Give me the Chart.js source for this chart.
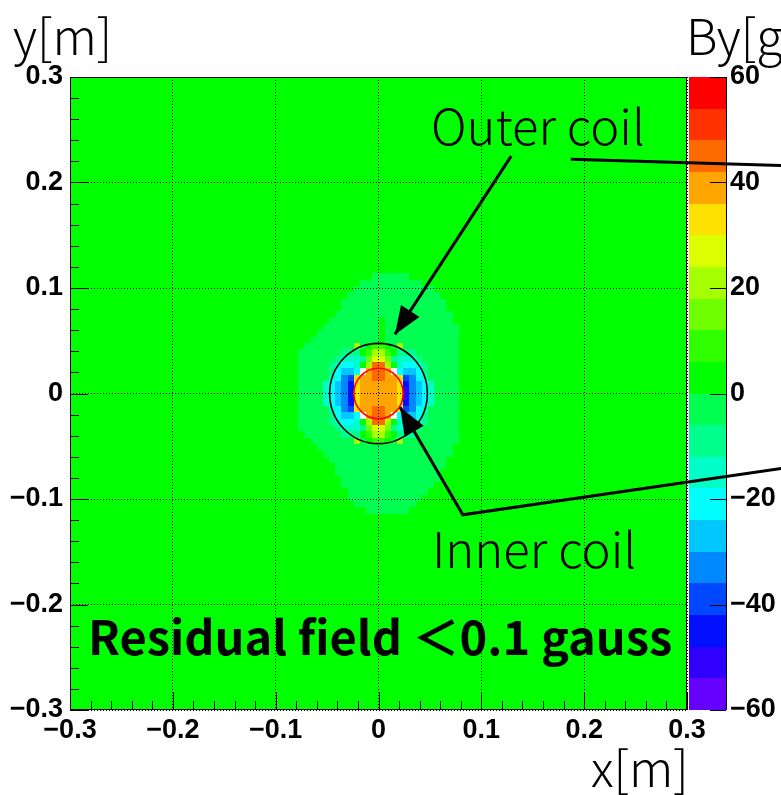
<!DOCTYPE html>
<html>
<head>
<meta charset="utf-8">
<script src="https://cdn.jsdelivr.net/npm/chart.js@4.4.0/dist/chart.umd.min.js"></script>
<style>
  html, body { margin: 0; padding: 0; background: #fff; }
  #wrap { position: relative; width: 781px; height: 795px; overflow: hidden; }
  #wrap canvas { position: absolute; left: 0; top: 0; }
  .lbl { position: absolute; white-space: nowrap; line-height: 1; color: #000;
         font-family: 'Noto Sans CJK JP', 'Noto Sans', sans-serif; font-weight: 300; font-size: 49px; }
  .bold { font-weight: 700; font-size: 47px; }
</style>
</head>
<body>
<div id="wrap">
  <canvas id="field-map" width="781" height="795"></canvas>
  <div class="lbl" style="left:13px;top:9px">y[m]</div>
  <div class="lbl" style="left:591px;top:741px">x[m]</div>
  <div class="lbl" style="left:686px;top:9px">By[gauss]</div>
  <div class="lbl" style="left:431px;top:99px">Outer coil</div>
  <div class="lbl" style="left:432px;top:522px">Inner coil</div>
  <div class="lbl bold" style="left:88px;top:611px">Residual field ＜0.1 gauss</div>
</div>
<script>
///// data /////
const axisRange = [-0.3, 0.3];
const binCount = 100;
const residualField = 0.05;          // gauss, everywhere outside the map below
const zRange = [-60, 60];
const zTicks = [-60, -40, -20, 0, 20, 40, 60];

// one letter per bin, A = -57 g ... T = +57 g (6 g steps), '.' = residual, W = below scale
const levelCodes = 'ABCDEFGHIJKLMNOPQRST';
const mapFirstColumn = 34;   // bin index of first character
const mapTopRow = 68;        // bin index (counted from bottom) of first string
const fieldRows = [
  '...............JJJJJJ...........',
  '.............JJJJJJJJJJ.........',
  '............JJJJJJJJJJJJJ.......',
  '...........JJJJJJJJJJJJJJJ......',
  '..........JJJJJJJJJJJJJJJJJ.....',
  '..........JJJJJJJJJJJJJJJJJ.....',
  '.........JJJJJJJJJJJJJJJJJJJ....',
  '........JJJJJJJJKJJJJJJJJJJJ....',
  '.......JJJJJJJJJKJJJJJJJJJJJJ...',
  '......JJJJJJJJJJKJJJJJJJJJJJJ...',
  '.....JJJJJJJJJJJKJJJJJJJJJJJJ...',
  '....JJJJJJJJNJKLLKJNJJJJJJJJJ...',
  '...JJJJJJJIIIKLNNLKIIIJJJJJJJ...',
  '...JJJJJJIHHHIMOOMIHHHIJJJJJJ...',
  '...JJJJJIHGGHKNRRNKHGGHIJJJJJ...',
  '...JJJJJIGFFGWQRRQWGFFGIJJJJJ...',
  '...JJJJJHGEDPQQRRQQPDEGHJJJJJ...',
  '...JJJJHGFECPQQQQQQPCEFGHJJJJ...',
  '...JJJJHGFECPQQQQQQPBEFGHJJJJ...',
  '...JJJJHGFECPQQQQQQPBEFGHJJJJ...',
  '...JJJJHGFECPQQQQQQPCEFGHJJJJ...',
  '...JJJJJHGEDPQQRRQQPDEGHJJJJJ...',
  '...JJJJJIGFFGWQRRQWGFFGIJJJJJ...',
  '...JJJJJIHGGHKNRRNKHGGHIJJJJJ...',
  '...JJJJJJIHHHIMOOMIHHHIJJJJJJ...',
  '....JJJJJJIIIKLNNLKIIIJJJJJJJ...',
  '.....JJJJJJJNJKLLKJNJJJJJJJJJ...',
  '......JJJJJJJJJJJJJJJJJJJJJJ....',
  '.......JJJJJJJJJJJJJJJJJJJJJ....',
  '........JJJJJJJJJJJJJJJJJJJ.....',
  '.........JJJJJJJJJJJJJJJJJJ.....',
  '.........JJJJJJJJJJJJJJJJJ......',
  '..........JJJJJJJJJJJJJJJJ......',
  '..........JJJJJJJJJJJJJJJ.......',
  '...........JJJJJJJJJJJJJ........',
  '...........JJJJJJJJJJJJ.........',
  '............JJJJJJJJJJ..........',
  '..............JJJJJJJ...........'
];

const paletteColors = [
  '#6500ff', '#3000ff', '#0010ff', '#0048ff', '#0088ff',
  '#00c8ff', '#00ffff', '#00ffc8', '#00ff8c', '#00ff50',
  '#00ff00', '#30ff00', '#70ff00', '#a5ff00', '#dcff00',
  '#ffe100', '#ffa500', '#ff6a00', '#ff3300', '#ff0000'
];

const outerCoilRadius = 0.0475;
const innerCoilRadius = 0.024;

// annotations in metres
const outerArrow = [[0.129, 0.225], [0.016, 0.056]];
const outerLine = [[0.187, 0.222], [0.392, 0.216]];
const innerArrow = [[0.392, -0.071], [0.082, -0.115], [0.021, -0.013]];

///// build bins /////
const binWidth = (axisRange[1] - axisRange[0]) / binCount;
const cells = [];
for (let j = 0; j < binCount; j++) {
  const row = fieldRows[mapTopRow - j];
  for (let i = 0; i < binCount; i++) {
    let v = residualField;
    const ch = row ? row[i - mapFirstColumn] : undefined;
    if (ch === 'W') v = -75;
    else if (ch && ch !== '.') v = -57 + 6 * levelCodes.indexOf(ch);
    cells.push({
      x0: axisRange[0] + i * binWidth, x1: axisRange[0] + (i + 1) * binWidth,
      y0: axisRange[0] + j * binWidth, y1: axisRange[0] + (j + 1) * binWidth, v
    });
  }
}

function colorFor(v) {
  if (v < zRange[0]) return null;
  const step = (zRange[1] - zRange[0]) / paletteColors.length;
  let k = Math.floor((v - zRange[0]) / step);
  k = Math.max(0, Math.min(paletteColors.length - 1, k));
  return paletteColors[k];
}

function fmt(v) {
  const r = Math.round(v * 100) / 100;
  if (Math.abs(r) < 1e-9) return '0';
  return (r < 0 ? '\u2212' : '') + Math.abs(r).toString();
}

const tickFont = { family: "'Liberation Sans', Arial, sans-serif", weight: 'bold', size: 27 };

const cellPlugin = {
  id: 'fieldCells',
  beforeDraw(chart) {
    const { ctx, scales: { x, y } } = chart;
    ctx.save();
    for (const c of cells) {
      const col = colorFor(c.v);
      if (!col) continue;
      const px0 = Math.round(x.getPixelForValue(c.x0));
      const px1 = Math.round(x.getPixelForValue(c.x1));
      const py0 = Math.round(y.getPixelForValue(c.y1));
      const py1 = Math.round(y.getPixelForValue(c.y0));
      ctx.fillStyle = col;
      ctx.fillRect(px0, py0, px1 - px0, py1 - py0);
    }
    ctx.restore();
  }
};

function arrowHead(ctx, from, to) {
  const a = Math.atan2(to[1] - from[1], to[0] - from[0]);
  const len = 28, half = 11;
  ctx.beginPath();
  ctx.moveTo(to[0], to[1]);
  ctx.lineTo(to[0] - len * Math.cos(a) + half * Math.sin(a), to[1] - len * Math.sin(a) - half * Math.cos(a));
  ctx.lineTo(to[0] - len * Math.cos(a) - half * Math.sin(a), to[1] - len * Math.sin(a) + half * Math.cos(a));
  ctx.closePath();
  ctx.fill();
}

const overlayPlugin = {
  id: 'overlay',
  afterDraw(chart) {
    const { ctx, chartArea: area, scales: { x, y, z } } = chart;
    const P = p => [x.getPixelForValue(p[0]), y.getPixelForValue(p[1])];
    ctx.save();

    // coils
    const cx = x.getPixelForValue(0), cy = y.getPixelForValue(0);
    [[outerCoilRadius, '#000'], [innerCoilRadius, '#ff0000']].forEach(([r, col]) => {
      ctx.beginPath();
      ctx.ellipse(cx, cy, x.getPixelForValue(r) - cx, cy - y.getPixelForValue(r), 0, 0, Math.PI * 2);
      ctx.strokeStyle = col;
      ctx.lineWidth = 1.6;
      ctx.stroke();
    });

    // inner ticks, bottom and left
    ctx.strokeStyle = '#000';
    ctx.lineWidth = 1;
    for (let k = 0; k <= 30; k++) {
      const v = axisRange[0] + k * 0.02;
      const major = k % 5 === 0;
      const px = Math.round(x.getPixelForValue(v)) + 0.5;
      ctx.beginPath();
      ctx.moveTo(px, area.bottom);
      ctx.lineTo(px, area.bottom - (major ? 18 : 9));
      ctx.stroke();
      const py = Math.round(y.getPixelForValue(v)) + 0.5;
      ctx.beginPath();
      ctx.moveTo(area.left, py);
      ctx.lineTo(area.left + (major ? 18 : 9), py);
      ctx.stroke();
    }

    // frame
    ctx.strokeRect(area.left + 0.5, area.top + 0.5, area.right - area.left - 1, area.bottom - area.top - 1);

    // colour bar
    const bl = area.right + 2, br = area.right + 39;
    const step = (zRange[1] - zRange[0]) / paletteColors.length;
    paletteColors.forEach((col, k) => {
      const t = Math.round(z.getPixelForValue(zRange[0] + (k + 1) * step));
      const b = Math.round(z.getPixelForValue(zRange[0] + k * step));
      ctx.fillStyle = col;
      ctx.fillRect(bl, t, br - bl, b - t);
    });
    ctx.strokeStyle = '#000';
    ctx.beginPath();
    ctx.moveTo(br + 0.5, z.getPixelForValue(zRange[1]));
    ctx.lineTo(br + 0.5, z.getPixelForValue(zRange[0]));
    ctx.stroke();
    zTicks.forEach(v => {
      const py = Math.round(z.getPixelForValue(v)) + 0.5;
      ctx.beginPath();
      ctx.moveTo(br - 16, py);
      ctx.lineTo(br, py);
      ctx.stroke();
    });

    // arrows and leader lines
    ctx.strokeStyle = '#000';
    ctx.fillStyle = '#000';
    ctx.lineWidth = 3;
    ctx.beginPath();
    outerLine.map(P).forEach((p, k) => k ? ctx.lineTo(p[0], p[1]) : ctx.moveTo(p[0], p[1]));
    ctx.stroke();
    const oa = outerArrow.map(P);
    ctx.beginPath();
    ctx.moveTo(oa[0][0], oa[0][1]);
    ctx.lineTo(oa[1][0], oa[1][1]);
    ctx.stroke();
    arrowHead(ctx, oa[0], oa[1]);
    const ia = innerArrow.map(P);
    ctx.beginPath();
    ia.forEach((p, k) => k ? ctx.lineTo(p[0], p[1]) : ctx.moveTo(p[0], p[1]));
    ctx.stroke();
    arrowHead(ctx, ia[1], ia[2]);

    ctx.restore();
  }
};

const gridOpts = { color: '#000', lineWidth: 1, drawTicks: false };

new Chart(document.getElementById('field-map'), {
  type: 'scatter',
  data: { datasets: [] },
  options: {
    responsive: false,
    animation: false,
    devicePixelRatio: 1,
    layout: { padding: { left: 0, right: 0, top: 77, bottom: 45 } },
    plugins: { legend: { display: false }, tooltip: { enabled: false } },
    scales: {
      x: {
        type: 'linear', min: axisRange[0], max: axisRange[1],
        ticks: { stepSize: 0.1, color: '#000', font: tickFont, padding: 4, maxRotation: 0, callback: fmt },
        grid: gridOpts,
        border: { display: false, dash: [1, 2] },
        afterFit(s) { s.height = 40; }
      },
      y: {
        type: 'linear', min: axisRange[0], max: axisRange[1],
        ticks: { stepSize: 0.1, color: '#000', font: tickFont, padding: 7, callback: fmt },
        grid: gridOpts,
        border: { display: false, dash: [1, 2] },
        afterFit(s) { s.width = 70; }
      },
      z: {
        type: 'linear', position: 'right', axis: 'y', min: zRange[0], max: zRange[1],
        ticks: { stepSize: 20, color: '#000', font: tickFont, padding: 43, callback: fmt },
        grid: { display: false, drawTicks: false },
        border: { display: false },
        afterFit(s) { s.width = 94; }
      }
    }
  },
  plugins: [cellPlugin, overlayPlugin]
});
</script>
</body>
</html>
